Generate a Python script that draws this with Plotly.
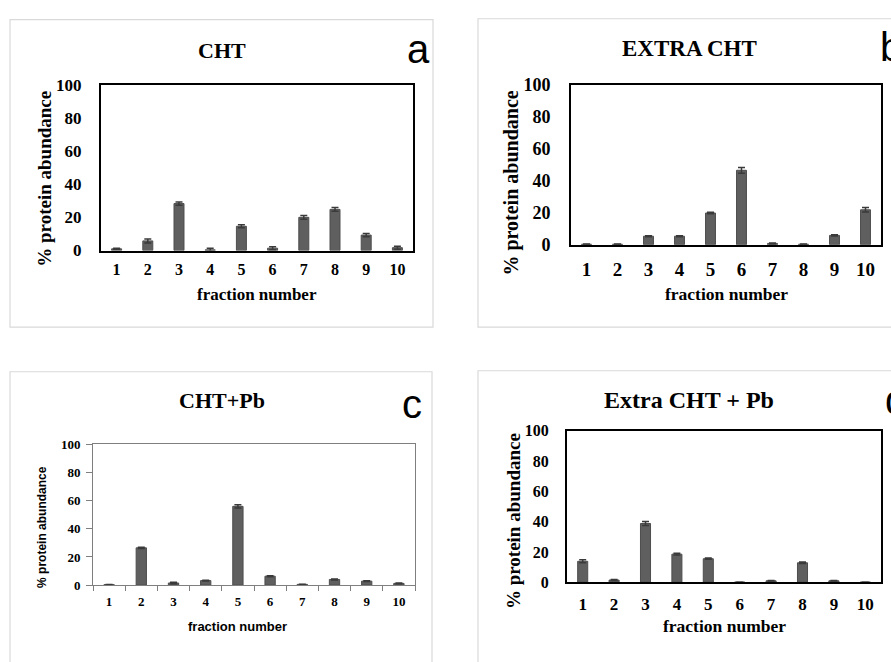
import plotly.graph_objects as go

W, H = 891, 662

fractions = ["1", "2", "3", "4", "5", "6", "7", "8", "9", "10"]
y_ticks = [0, 20, 40, 60, 80, 100]

cht_vals = [1.0, 5.8, 28.3, 0.4, 14.6, 1.4, 20.0, 24.8, 9.3, 1.7]
cht_err = [0.3, 1.2, 1.0, 1.0, 0.9, 0.9, 1.1, 1.1, 1.0, 0.9]

extra_vals = [0.3, 0.3, 5.3, 5.3, 19.8, 46.5, 0.8, 0.3, 5.8, 21.8]
extra_err = [0.2, 0.2, 0.3, 0.3, 0.4, 1.8, 0.3, 0.2, 0.4, 1.4]

chtpb_vals = [0.3, 26.5, 1.5, 3.2, 56.0, 6.3, 0.5, 4.0, 2.8, 1.2]
chtpb_err = [0.1, 0.4, 0.5, 0.3, 1.2, 0.4, 0.1, 0.3, 0.3, 0.2]

extrapb_vals = [13.8, 1.4, 38.8, 18.5, 15.5, 0.0, 0.9, 12.8, 0.9, 0.0]
extrapb_err = [1.0, 0.3, 1.3, 0.6, 0.4, 0.0, 0.2, 0.5, 0.2, 0.0]

titles = ["CHT", "EXTRA CHT", "CHT+Pb", "Extra CHT + Pb"]
letters = ["a", "b", "c", "d"]

SERIF = "Liberation Serif, Times New Roman, serif"
SANS = "Liberation Sans, Arial, sans-serif"

def px_x(x):
    return x / W

def px_y(y):
    return 1 - y / H

# plot-area pixel boxes (x0, x1, y0top, y1bottom)
boxes = [(101, 413, 77, 248), (571, 881, 77, 242), (93, 415, 448, 593), (567, 881, 434, 590)]
series = [(cht_vals, cht_err), (extra_vals, extra_err), (chtpb_vals, chtpb_err), (extrapb_vals, extrapb_err)]

fig = go.Figure()
layout = dict(width=W, height=H, margin=dict(l=0, r=0, t=0, b=0),
              paper_bgcolor="white", plot_bgcolor="white", showlegend=False,
              shapes=[], annotations=[])

style = [
    dict(ytf=17, xtf=16, ystand=14, xstand=3, lw=2, lc="black", ticks=False, yfont=SERIF, yts=19, xts=17, xtfont=SERIF),
    dict(ytf=18, xtf=19, ystand=15, xstand=7, lw=2, lc="black", ticks=False, yfont=SERIF, yts=20, xts=17.5, xtfont=SERIF),
    dict(ytf=13, xtf=13, ystand=3, xstand=8, lw=1, lc="#7f7f7f", ticks=True, yfont=SANS, yts=12, xts=13, xtfont=SANS),
    dict(ytf=16, xtf=17, ystand=13, xstand=5, lw=2, lc="black", ticks=False, yfont=SERIF, yts=19, xts=17.5, xtfont=SERIF),
]

for i, ((vals, err), (x0, x1, y0, y1), st) in enumerate(zip(series, boxes, style)):
    n = "" if i == 0 else str(i + 1)
    fig.add_trace(go.Bar(
        x=fractions, y=vals, width=0.32,
        marker=dict(color="#5f5f5f", line=dict(color="#4d4d4d", width=1)),
        error_y=dict(type="data", array=err, symmetric=True, color="#3a3a3a", thickness=1.5, width=3.5),
        xaxis="x" + n, yaxis="y" + n,
    ))
    xa = dict(domain=[px_x(x0), px_x(x1)], anchor="y" + n, type="category",
              categoryorder="array", categoryarray=fractions,
              showline=True, linecolor=st["lc"], linewidth=st["lw"], mirror=True,
              showgrid=False, zeroline=False,
              tickfont=dict(family=SERIF, size=st["xtf"], color="black", weight="bold"),
              ticklabelstandoff=st["xstand"], fixedrange=True)
    ya = dict(domain=[px_y(y1), px_y(y0)], anchor="x" + n, range=[0, 100],
              tickvals=y_ticks, showline=True, linecolor=st["lc"], linewidth=st["lw"], mirror=True,
              showgrid=False, zeroline=False,
              tickfont=dict(family=SERIF, size=st["ytf"], color="black", weight="bold"),
              ticklabelstandoff=st["ystand"], fixedrange=True)
    if st["ticks"]:
        xa.update(ticks="outside", tickson="boundaries", ticklen=5, tickcolor="#7f7f7f", ticklabelstandoff=4)
        ya.update(ticks="outside", ticklen=6, tickcolor="#7f7f7f")
    layout["xaxis" + n] = xa
    layout["yaxis" + n] = ya

# outer panel frames
frames = [(10, 433, 10, 327), (478, 900, 9, 327), (10, 432, 373, 680), (478, 900, 372, 680)]
for (fx0, fx1, fy0, fy1) in frames:
    layout["shapes"].append(dict(type="rect", xref="paper", yref="paper",
                                 x0=px_x(fx0), x1=px_x(fx1), y0=px_y(fy1), y1=px_y(fy0),
                                 line=dict(color="#d9d9d9", width=1.2), fillcolor="rgba(0,0,0,0)", layer="below"))

# titles
title_pos = [(222, 42, 22), (689, 40, 23), (222, 403, 22), (689, 402, 24)]
for t, (tx, ty, ts) in zip(titles, title_pos):
    layout["annotations"].append(dict(text=t, x=px_x(tx), y=px_y(ty), xref="paper", yref="paper",
                                      showarrow=False, xanchor="center", yanchor="middle",
                                      font=dict(family=SERIF, size=ts, color="black", weight="bold")))

# panel letters
letter_pos = [(418, 40, "center"), (878, 38, "left"), (412, 406, "center"), (883, 402, "left")]
for l, (lx, ly, anc) in zip(letters, letter_pos):
    layout["annotations"].append(dict(text=l, x=px_x(lx), y=px_y(ly), xref="paper", yref="paper",
                                      showarrow=False, xanchor=anc, yanchor="middle",
                                      font=dict(family=SANS, size=40, color="black")))

# axis titles
ytitle_pos = [(45, 174), (512, 179), (42, 533), (513, 527)]
xtitle_pos = [(257, 293), (726, 293), (237, 636), (724, 635)]
for st, (yx, yy), (xx, xy) in zip(style, ytitle_pos, xtitle_pos):
    layout["annotations"].append(dict(text="% protein abundance", x=px_x(yx), y=px_y(yy), xref="paper", yref="paper",
                                      showarrow=False, textangle=-90, xanchor="center", yanchor="middle",
                                      font=dict(family=st["yfont"], size=st["yts"], color="black", weight="bold")))
    layout["annotations"].append(dict(text="fraction number", x=px_x(xx), y=px_y(xy), xref="paper", yref="paper",
                                      showarrow=False, xanchor="center", yanchor="middle",
                                      font=dict(family=st["xtfont"], size=st["xts"], color="black", weight="bold")))

fig.update_layout(**layout)
fig.write_html("out.html", config={"displayModeBar": False},
               post_script="document.body.style.margin='0';document.body.style.overflow='hidden';")
